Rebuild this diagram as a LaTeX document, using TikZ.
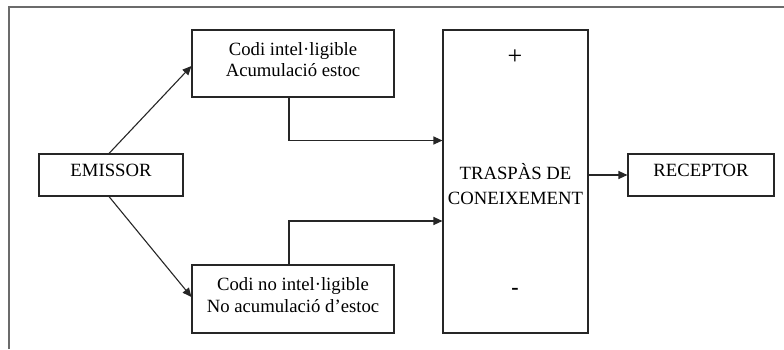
\documentclass[tikz,border=0pt]{standalone}
\usepackage{fontspec}
\setmainfont{Liberation Serif}
\usetikzlibrary{arrows.meta}
\begin{document}
\begin{tikzpicture}[x=1pt,y=-1pt,
  box/.style={draw=black!85,line width=1.1pt,rectangle,inner sep=0pt},
  txt/.style={align=center,inner sep=0pt,font=\fontsize{18.7}{21.5}\selectfont},
  arr/.style={draw=black!85,line width=1.1pt,-{Triangle[length=9pt,width=8pt]}},
  frame/.style={draw=black!58,line width=1.6pt}]
\useasboundingbox (0,0) rectangle (784,349);
\draw[frame] (9,349) -- (9,7) -- (784,7);
% boxes
\node[box,minimum width=144pt,minimum height=42pt] (em) at (111,175) {};
\node[box,minimum width=202pt,minimum height=67pt] (top) at (293,63.5) {};
\node[box,minimum width=202pt,minimum height=68pt] (bot) at (293,299) {};
\node[box,minimum width=145pt,minimum height=303pt] (big) at (515.5,181.5) {};
\node[box,minimum width=146pt,minimum height=42pt] (rec) at (701,175) {};
% texts
\node[txt] (emt) at ([yshift=5pt]em.center) {EMISSOR};
\node[txt] (topt) at ([yshift=4pt]top.center) {Codi intel·ligible\\Acumulació estoc};
\node[txt] (bott) at ([yshift=4pt]bot.center) {Codi no intel·ligible\\No acumulació d’estoc};
\node[txt,font=\fontsize{18.7}{25}\selectfont] (bigt) at ([yshift=-3pt]big.center) {TRASPÀS DE\\CONEIXEMENT};
\node[txt] (rect) at ([yshift=5pt]rec.center) {RECEPTOR};
\node[txt,font=\fontsize{26}{26}\selectfont] (plus) at (515,57) {+};
\node[txt,font=\fontsize{22}{22}\selectfont\bfseries] (minus) at (515,291) {-};
% connectors
\draw[arr] ([xshift=-2pt]em.north) -- ([yshift=-2.5pt]top.west);
\draw[arr] ([xshift=-2pt]em.south) -- ([yshift=2pt]bot.west);
\draw[arr] ([xshift=-4pt]top.south) |- ([yshift=41pt]big.west);
\draw[arr] ([xshift=-4pt]bot.north) |- ([yshift=-39.5pt]big.west);
\draw[arr] (rec.west -| big.east) -- (rec.west);
\end{tikzpicture}
\end{document}
